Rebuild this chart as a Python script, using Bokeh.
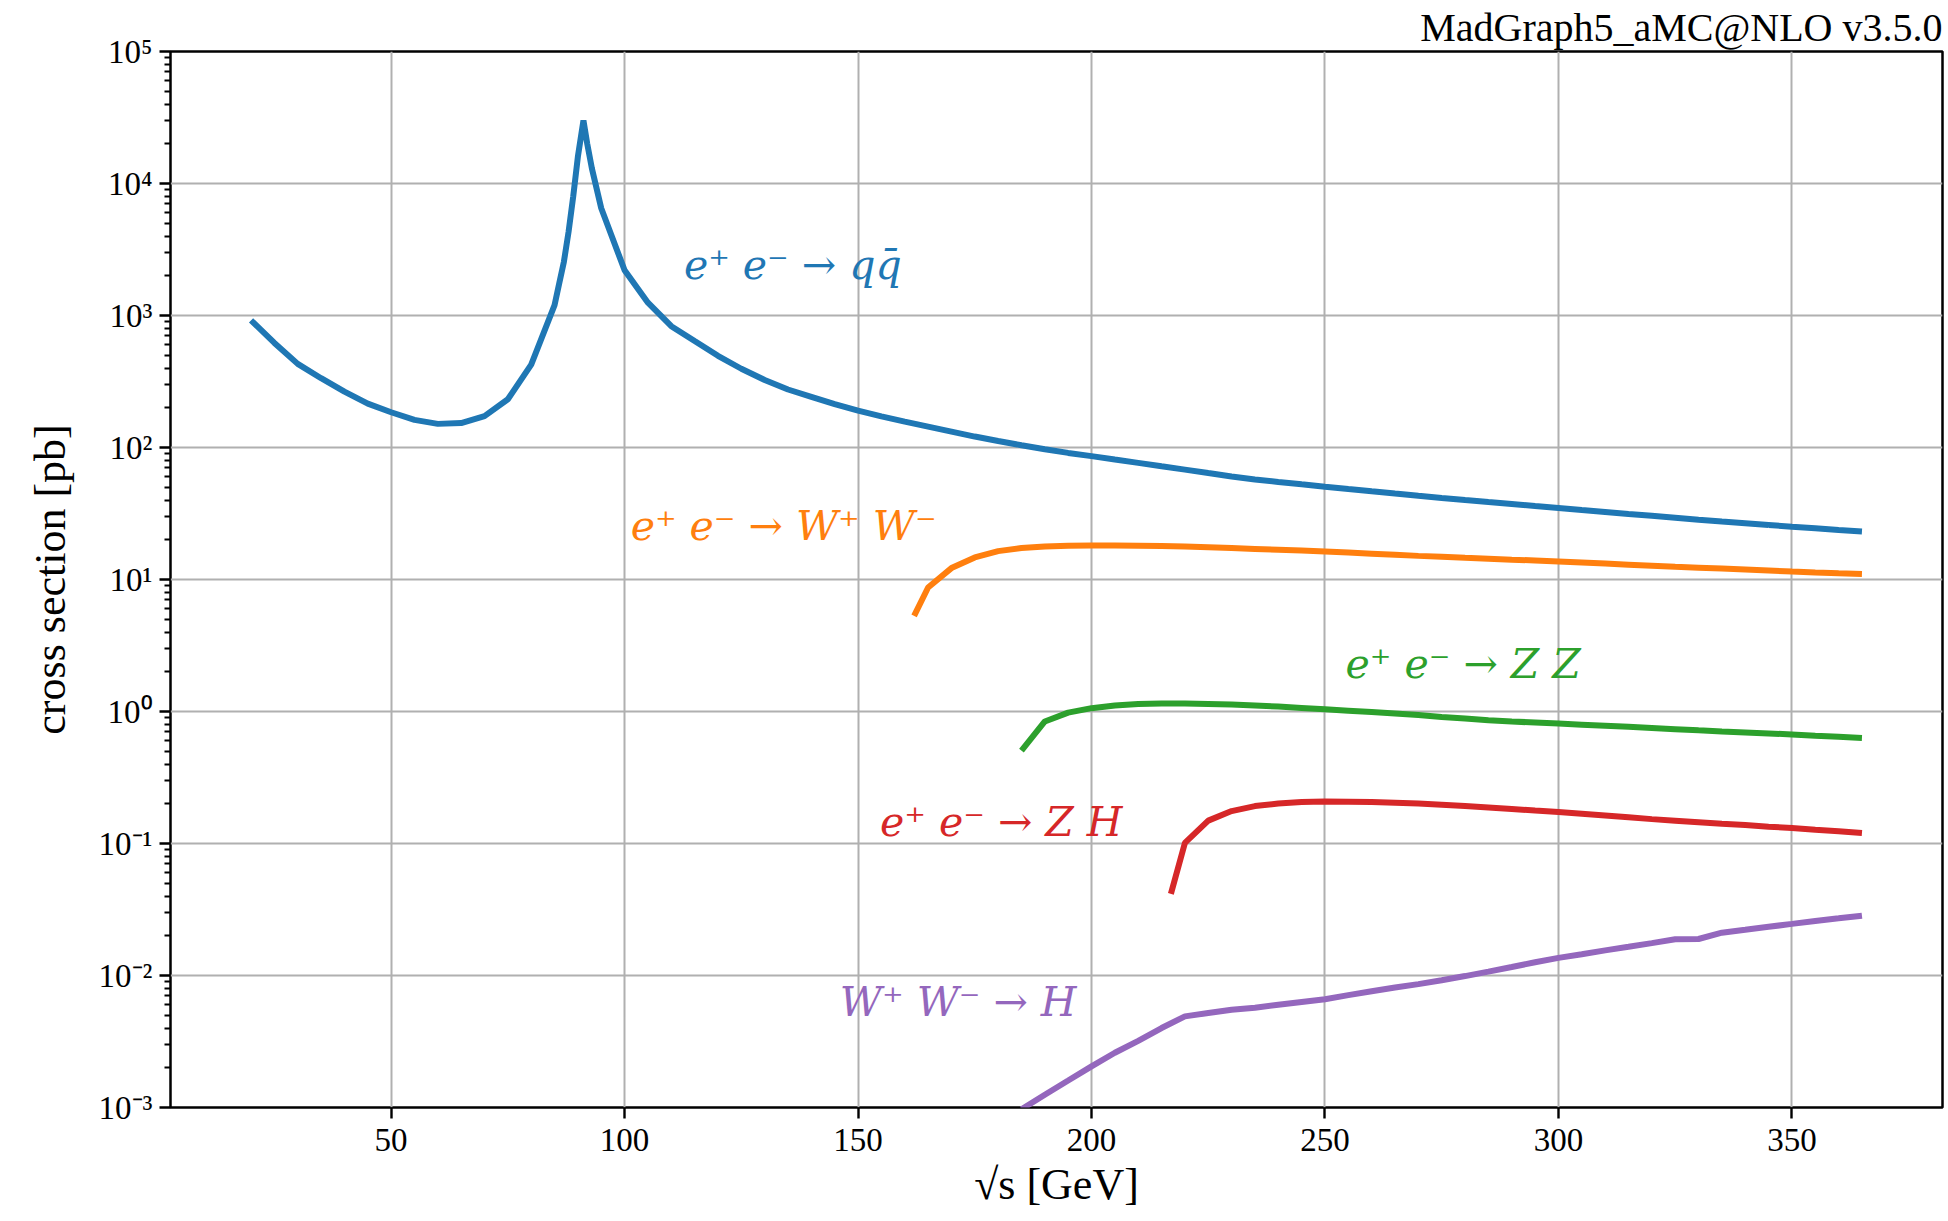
from bokeh.plotting import figure
from bokeh.models import FixedTicker, CustomJSTickFormatter, Label
from bokeh.embed import file_html
from bokeh.resources import INLINE

# ---------------- data ----------------
qq_x = [20, 25, 30, 35, 40, 45, 50, 55, 60, 65, 70, 75, 80, 85, 86, 87, 88, 89, 90, 91.19,
        92, 93, 95, 100, 105, 110, 115, 120, 125, 130, 135, 140, 145, 150, 155, 160, 165,
        170, 175, 180, 185, 190, 195, 200, 205, 210, 215, 220, 225, 230, 235, 240, 245, 250,
        255, 260, 265, 270, 275, 280, 285, 290, 295, 300, 305, 310, 315, 320, 325, 330, 335,
        340, 345, 350, 355, 360, 365]
qq_y = [920, 620, 430, 335, 265, 215, 185, 162, 151, 153, 173, 232, 425, 1200, 1750, 2550,
        4300, 8000, 16000, 30000, 20000, 13000, 6500, 2200, 1250, 830, 640, 495, 395, 325,
        275, 242, 213, 190, 172, 157, 144, 132, 121, 112, 104, 97, 91, 86, 81, 76.5, 72, 68,
        64, 60.3, 57.3, 54.8, 52.6, 50.5, 48.5, 46.6, 44.8, 43.1, 41.5, 40, 38.6, 37.3, 36,
        34.8, 33.6, 32.5, 31.4, 30.4, 29.4, 28.4, 27.5, 26.7, 25.9, 25.1, 24.4, 23.7, 23.1]

ww_x = [162, 165, 170, 175, 180, 185, 190, 195, 200, 205, 210, 215, 220, 225, 230, 235, 240,
        245, 250, 255, 260, 265, 270, 275, 280, 285, 290, 295, 300, 305, 310, 315, 320, 325,
        330, 335, 340, 345, 350, 355, 360, 365]
ww_y = [5.3, 8.7, 12.2, 14.7, 16.4, 17.3, 17.8, 18.05, 18.1, 18.1, 18.0, 17.9, 17.75, 17.55,
        17.3, 17.05, 16.8, 16.55, 16.3, 16.0, 15.7, 15.4, 15.1, 14.85, 14.6, 14.37, 14.14,
        13.92, 13.7, 13.45, 13.2, 12.96, 12.73, 12.5, 12.3, 12.1, 11.9, 11.7, 11.5, 11.32,
        11.15, 11.0]

zz_x = [185, 190, 195, 200, 205, 210, 215, 220, 225, 230, 235, 240, 245, 250, 255, 260, 265,
        270, 275, 280, 285, 290, 295, 300, 305, 310, 315, 320, 325, 330, 335, 340, 345, 350,
        355, 360, 365]
zz_y = [0.506, 0.84, 0.98, 1.06, 1.11, 1.14, 1.15, 1.15, 1.14, 1.13, 1.11, 1.09, 1.065, 1.04,
        1.015, 0.99, 0.965, 0.94, 0.91, 0.885, 0.86, 0.84, 0.825, 0.81, 0.795, 0.78, 0.765,
        0.75, 0.735, 0.72, 0.706, 0.694, 0.682, 0.67, 0.656, 0.643, 0.63]

zh_x = [217, 220, 225, 230, 235, 240, 245, 250, 255, 260, 265, 270, 275, 280, 285, 290, 295,
        300, 305, 310, 315, 320, 325, 330, 335, 340, 345, 350, 355, 360, 365]
zh_y = [0.0415, 0.101, 0.149, 0.176, 0.192, 0.201, 0.206, 0.208, 0.2075, 0.206, 0.2035,
        0.2005, 0.197, 0.1925, 0.1875, 0.1825, 0.1775, 0.173, 0.168, 0.163, 0.158, 0.153,
        0.149, 0.145, 0.141, 0.138, 0.134, 0.131, 0.127, 0.124, 0.120]

wwh_x = [185, 190, 195, 200, 205, 210, 215, 220, 225, 230, 235, 240, 245, 250, 255, 260, 265,
         270, 275, 280, 285, 290, 295, 300, 305, 310, 315, 320, 325, 330, 335, 340, 345, 350,
         355, 360, 365]
wwh_y = [0.00097, 0.00125, 0.0016, 0.00205, 0.0026, 0.0032, 0.0040, 0.0049, 0.0052, 0.0055,
         0.0057, 0.0060, 0.0063, 0.0066, 0.0071, 0.0076, 0.0081, 0.0086, 0.0092, 0.0099,
         0.0107, 0.0116, 0.0126, 0.0136, 0.0145, 0.0155, 0.0165, 0.0176, 0.0188, 0.0189,
         0.0211, 0.0222, 0.0234, 0.0246, 0.0259, 0.0271, 0.0284]

x_ticks = [50, 100, 150, 200, 250, 300, 350]
y_ticks = [1e-3, 1e-2, 1e-1, 1e0, 1e1, 1e2, 1e3, 1e4, 1e5]
y_minor = [m * 10.0 ** d for d in range(-3, 5) for m in range(2, 10)]

series = [
    (qq_x, qq_y, "#1f77b4", "e⁺ e⁻ → qq̄", 112.7, 1970),
    (ww_x, ww_y, "#ff7f0e", "e⁺ e⁻ → W⁺ W⁻", 101.3, 20.7),
    (zz_x, zz_y, "#2ca02c", "e⁺ e⁻ → Z Z", 254.4, 1.87),
    (zh_x, zh_y, "#d62728", "e⁺ e⁻ → Z H", 154.7, 0.118),
    (wwh_x, wwh_y, "#9467bd", "W⁺ W⁻ → H", 146.1, 0.00512),
]

FONT = "Liberation Serif"
MATH_FONT = "DejaVu Serif"

p = figure(width=1948, height=1221, y_axis_type="log",
           x_range=(2.75, 382.25), y_range=(1e-3, 1e5),
           output_backend="svg", toolbar_location=None,
           min_border_left=170, min_border_right=6, min_border_top=51, min_border_bottom=114)

p.background_fill_color = "white"
p.border_fill_color = "white"
p.outline_line_color = "black"
p.outline_line_width = 2.5

for xs, ys, col, lab, lx, ly in series:
    p.line(xs, ys, line_color=col, line_width=6)
    p.add_layout(Label(x=lx, y=ly, text=lab, text_color=col, text_font=MATH_FONT,
                       text_font_style="italic", text_font_size="41px",
                       text_align="left", text_baseline="alphabetic", y_offset=12))

# title (above the frame, right aligned)
p.title.text = "MadGraph5_aMC@NLO v3.5.0"
p.title.align = "right"
p.title.text_font = FONT
p.title.text_font_style = "normal"
p.title.text_font_size = "40px"
p.title.text_color = "black"
p.title.standoff = 3

# axes
p.xaxis.ticker = FixedTicker(ticks=x_ticks)
p.yaxis.ticker = FixedTicker(ticks=y_ticks, minor_ticks=y_minor)
p.yaxis.formatter = CustomJSTickFormatter(code="""
const sup = {'-':'\u207b','0':'\u2070','1':'\u00b9','2':'\u00b2','3':'\u00b3','4':'\u2074',
             '5':'\u2075','6':'\u2076','7':'\u2077','8':'\u2078','9':'\u2079'};
const e = Math.round(Math.log10(tick));
return '10' + String(e).split('').map(c => sup[c]).join('');
""")
for ax in (p.xaxis[0], p.yaxis[0]):
    ax.axis_line_color = None
    ax.major_tick_line_color = "black"
    ax.major_tick_line_width = 2.4
    ax.major_tick_out = 11
    ax.major_tick_in = 0
    ax.minor_tick_line_color = "black"
    ax.minor_tick_line_width = 1.8
    ax.minor_tick_out = 6
    ax.minor_tick_in = 0
    ax.major_label_text_font = FONT
    ax.major_label_text_font_size = "33px"
    ax.major_label_text_color = "black"
    ax.axis_label_text_font = FONT
    ax.axis_label_text_font_style = "normal"
    ax.axis_label_text_font_size = "44px"
    ax.axis_label_text_color = "black"
p.xaxis.minor_tick_line_color = None
p.xaxis.major_label_standoff = 10
p.yaxis.major_label_standoff = 7
p.xaxis.axis_label = "√s [GeV]"
p.yaxis.axis_label = "cross section [pb]"
p.xaxis.axis_label_standoff = 6
p.yaxis.axis_label_standoff = 21

p.xgrid.grid_line_color = "#b0b0b0"
p.ygrid.grid_line_color = "#b0b0b0"
p.xgrid.grid_line_width = 2
p.ygrid.grid_line_width = 2

open("out.html", "w").write(file_html(p, INLINE))
